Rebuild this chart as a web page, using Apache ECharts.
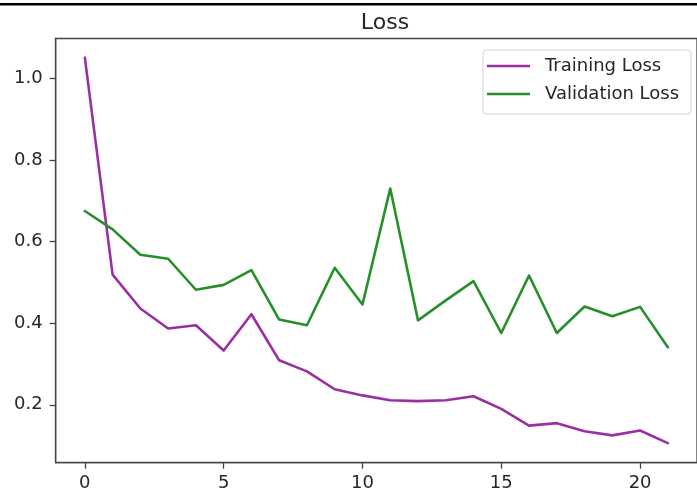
<!DOCTYPE html>
<html>
<head>
<meta charset="utf-8">
<script src="https://cdn.jsdelivr.net/npm/echarts@6/dist/echarts.min.js"></script>
<style>html,body{margin:0;padding:0;background:#fff;}#c{width:697px;height:499px;}</style>
</head>
<body>
<div id="c"></div>
<script>
const epochs = [0,1,2,3,4,5,6,7,8,9,10,11,12,13,14,15,16,17,18,19,20,21];
const trainingLoss = [1.051,0.519,0.436,0.387,0.395,0.333,0.422,0.309,0.282,0.238,0.223,0.211,0.209,0.211,0.221,0.190,0.149,0.155,0.135,0.125,0.137,0.106];
const validationLoss = [0.675,0.630,0.568,0.558,0.482,0.494,0.530,0.409,0.395,0.536,0.446,0.730,0.407,0.456,0.503,0.376,0.517,0.376,0.441,0.417,0.440,0.341];
const xTicks = [0,5,10,15,20];
const yTicks = [0.2,0.4,0.6,0.8,1.0];
const seriesNames = ['Training Loss','Validation Loss'];
const titleText = 'Loss';

const font = 'DejaVu Sans';
const txt = '#262626';
const chart = echarts.init(document.getElementById('c'), null, {renderer:'canvas'});
const pair = (ys) => epochs.map((x,i)=>[x, ys[i]]);
const axisCol = '#444';
chart.setOption({
  animation:false,
  backgroundColor:'#fff',
  title:{text:titleText, left:380, top:7, textAlign:'center',
    textStyle:{fontFamily:font, fontSize:22, fontWeight:'normal', color:txt}},
  graphic:[{type:'rect', shape:{x:0,y:3,width:697,height:2.5}, style:{fill:'#000'}}],
  grid:{left:55.7, top:38.5, width:652.2, height:424.2, show:true, borderColor:axisCol, borderWidth:1.3, backgroundColor:'#fff'},
  legend:{orient:'vertical', left:483, top:50, width:204,
    padding:[7,12,11,4], itemGap:10, itemWidth:43, itemHeight:18,
    backgroundColor:'rgba(255,255,255,0.8)', borderColor:'#d4d4d4', borderWidth:1, borderRadius:4,
    textStyle:{fontFamily:font, fontSize:18, color:txt, padding:[0,0,0,10], lineHeight:18},
    data:seriesNames.map(n=>({name:n, icon:'path://M0,0 L43,0 L43,2.5 L0,2.5 Z'}))},
  xAxis:{type:'value', min:-1.05, max:22.05,
    axisLine:{show:true, onZero:false, lineStyle:{color:axisCol, width:1.3}},
    axisTick:{show:true, length:6, customValues:xTicks, lineStyle:{color:axisCol, width:1.3}},
    axisLabel:{customValues:xTicks, margin:12, fontFamily:font, fontSize:18, color:txt},
    splitLine:{show:false}},
  yAxis:{type:'value', min:0.058, max:1.098,
    axisLine:{show:true, onZero:false, lineStyle:{color:axisCol, width:1.3}},
    axisTick:{show:true, length:6, customValues:yTicks, lineStyle:{color:axisCol, width:1.3}},
    axisLabel:{customValues:yTicks, margin:13, fontFamily:font, fontSize:18, color:txt,
      formatter:(v)=>v.toFixed(1)},
    splitLine:{show:false}},
  series:[
    {name:seriesNames[0], type:'line', data:pair(trainingLoss), showSymbol:false, symbol:'none',
      itemStyle:{color:'#9a2fa2'}, lineStyle:{color:'#9a2fa2', width:2.6, join:'round', cap:'round'}},
    {name:seriesNames[1], type:'line', data:pair(validationLoss), showSymbol:false, symbol:'none',
      itemStyle:{color:'#25902a'}, lineStyle:{color:'#25902a', width:2.6, join:'round', cap:'round'}}
  ]
});
</script>
</body>
</html>
